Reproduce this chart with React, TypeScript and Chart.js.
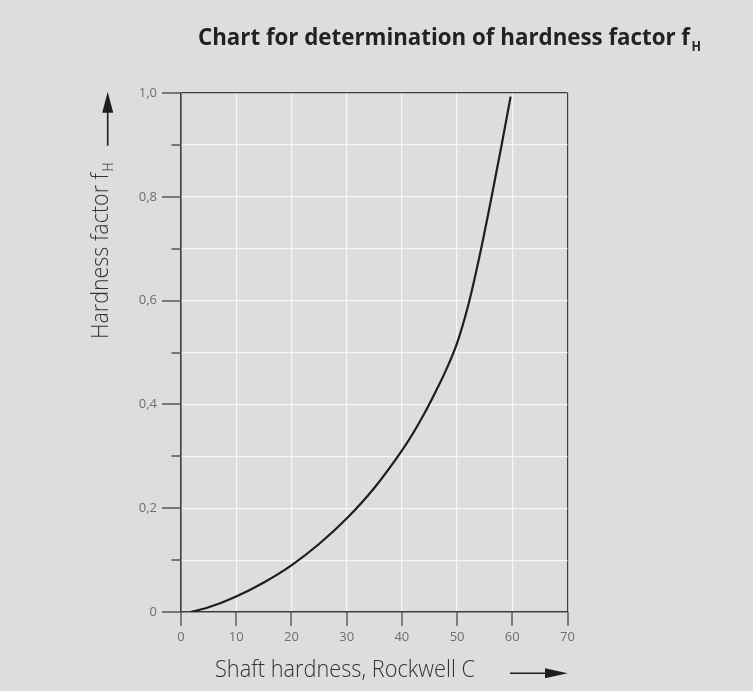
import React, { useEffect, useRef } from "react";
import { Chart, registerables } from "chart.js";

Chart.register(...registerables);

// ---- data ----
const shaftHardnessHRC = [1.8, 5, 10, 15, 20, 25, 30, 35, 40, 42, 44, 46, 48, 50, 52, 54, 56, 58, 59.7];
const hardnessFactor = [0, 0.009, 0.03, 0.057, 0.09, 0.131, 0.18, 0.239, 0.311, 0.344, 0.381, 0.422, 0.466, 0.518, 0.59, 0.682, 0.786, 0.896, 0.993];
const xTickValues = [0, 10, 20, 30, 40, 50, 60, 70];
const yMajorValues = [0, 0.2, 0.4, 0.6, 0.8, 1.0];
const yMajorLabels = ["0", "0,2", "0,4", "0,6", "0,8", "1,0"];
const yMinorValues = [0.1, 0.3, 0.5, 0.7, 0.9];

const chartTitle = "Chart for determination of hardness factor f";
const titleSub = "H";
const yTitle = "Hardness factor f";
const yTitleSub = "H";
const xTitle = "Shaft hardness, Rockwell C";

const BG = "#dcdddf";
const FRAME = "#3c3c3c";
const TICK = "#555555";

function fitText(
  ctx: CanvasRenderingContext2D,
  text: string,
  x: number,
  y: number,
  width: number,
  font: string,
  color: string
) {
  ctx.save();
  ctx.font = font;
  ctx.fillStyle = color;
  ctx.textBaseline = "alphabetic";
  ctx.textAlign = "left";
  const w = ctx.measureText(text).width;
  const s = width / w;
  ctx.translate(x, y);
  ctx.scale(s, 1);
  ctx.fillText(text, 0, 0);
  ctx.restore();
}

const decorPlugin = {
  id: "decor",
  beforeDraw(chart: any) {
    const ctx = chart.ctx as CanvasRenderingContext2D;
    ctx.save();
    ctx.fillStyle = BG;
    ctx.fillRect(0, 0, chart.width, chart.height);
    ctx.restore();
  },
  afterDraw(chart: any) {
    const ctx = chart.ctx as CanvasRenderingContext2D;
    const xs = chart.scales.x;
    const ys = chart.scales.y;
    const area = chart.chartArea;

    // tick marks
    ctx.save();
    ctx.strokeStyle = TICK;
    ctx.lineWidth = 1.4;
    ctx.beginPath();
    yMajorValues.forEach((v) => {
      const py = Math.round(ys.getPixelForValue(v));
      ctx.moveTo(area.left - 19, py);
      ctx.lineTo(area.left, py);
    });
    yMinorValues.forEach((v) => {
      const py = Math.round(ys.getPixelForValue(v));
      ctx.moveTo(area.left - 9.5, py);
      ctx.lineTo(area.left, py);
    });
    xTickValues.forEach((v) => {
      const px = Math.round(xs.getPixelForValue(v));
      ctx.moveTo(px, area.bottom);
      ctx.lineTo(px, area.bottom + 14);
    });
    ctx.stroke();
    ctx.restore();

    // title
    fitText(ctx, chartTitle, 198, 44.5, 492, "bold 24px 'Open Sans', 'DejaVu Sans', sans-serif", "#222222");
    fitText(ctx, titleSub, 691.5, 50.5, 9.5, "bold 14px 'Open Sans', 'DejaVu Sans', sans-serif", "#222222");

    // x axis title
    fitText(ctx, xTitle, 215, 676.5, 260, "300 23px 'Open Sans', 'DejaVu Sans', sans-serif", "#333333");

    // y axis title (rotated)
    ctx.save();
    ctx.translate(108, 339);
    ctx.rotate(-Math.PI / 2);
    fitText(ctx, yTitle, 0, 0, 166, "300 23px 'Open Sans', 'DejaVu Sans', sans-serif", "#333333");
    fitText(ctx, yTitleSub, 167.5, 5, 9, "300 14px 'Open Sans', 'DejaVu Sans', sans-serif", "#333333");
    ctx.restore();

    // arrows
    ctx.save();
    ctx.strokeStyle = "#1e1e1e";
    ctx.fillStyle = "#1e1e1e";
    ctx.lineWidth = 1.6;
    // y arrow
    ctx.beginPath();
    ctx.moveTo(107.7, 145.7);
    ctx.lineTo(107.7, 110);
    ctx.stroke();
    ctx.beginPath();
    ctx.moveTo(107.7, 91.7);
    ctx.lineTo(113.2, 112.7);
    ctx.lineTo(102.2, 112.7);
    ctx.closePath();
    ctx.fill();
    // x arrow
    ctx.beginPath();
    ctx.moveTo(510, 673.3);
    ctx.lineTo(547, 673.3);
    ctx.stroke();
    ctx.beginPath();
    ctx.moveTo(567.7, 673.3);
    ctx.lineTo(545, 668.3);
    ctx.lineTo(545, 678.3);
    ctx.closePath();
    ctx.fill();
    ctx.restore();
  },
};

export default function App() {
  const ref = useRef<HTMLCanvasElement | null>(null);

  useEffect(() => {
    document.body.style.margin = "0";
    document.body.style.background = BG;
    if (!ref.current) return;
    const points = shaftHardnessHRC.map((x, i) => ({ x, y: hardnessFactor[i] }));
    const chart = new Chart(ref.current, {
      type: "line",
      data: {
        datasets: [
          {
            data: points,
            borderColor: "#1e1e1e",
            borderWidth: 2.2,
            pointRadius: 0,
            cubicInterpolationMode: "monotone",
            fill: false,
          },
        ],
      },
      options: {
        animation: false,
        responsive: false,
        maintainAspectRatio: false,
        layout: { padding: { left: 0, top: 93, right: 185.5, bottom: 0 } },
        plugins: {
          legend: { display: false },
          title: { display: false },
          tooltip: { enabled: false },
        },
        scales: {
          x: {
            type: "linear",
            min: 0,
            max: 70,
            afterFit: (axis: any) => {
              axis.height = 79;
            },
            ticks: {
              stepSize: 10,
              padding: 17,
              color: "#6e6e6e",
              font: { family: "'Open Sans', 'DejaVu Sans', sans-serif", size: 13 },
            },
            grid: {
              drawTicks: false,
              lineWidth: 1.2,
              color: (c: any) => (c.tick && c.tick.value === 70 ? FRAME : "#f7f7f7"),
            },
            border: { display: true, color: FRAME, width: 1.6 },
          },
          y: {
            type: "linear",
            min: 0,
            max: 1,
            afterFit: (axis: any) => {
              axis.width = 181;
            },
            ticks: {
              stepSize: 0.1,
              padding: 24,
              color: "#6e6e6e",
              font: { family: "'Open Sans', 'DejaVu Sans', sans-serif", size: 13 },
              callback: (v: any) => {
                const i = yMajorValues.findIndex((t) => Math.abs(t - Number(v)) < 1e-6);
                return i >= 0 ? yMajorLabels[i] : "";
              },
            },
            grid: {
              drawTicks: false,
              lineWidth: 1.2,
              color: (c: any) => (c.tick && Math.abs(c.tick.value - 1) < 1e-6 ? FRAME : "#f7f7f7"),
            },
            border: { display: true, color: FRAME, width: 1.6 },
          },
        },
      },
      plugins: [decorPlugin],
    });
    return () => chart.destroy();
  }, []);

  return (
    <div style={{ width: 753, height: 691, background: BG }}>
      <canvas ref={ref} width={753} height={691} style={{ display: "block", width: 753, height: 691 }} />
    </div>
  );
}
